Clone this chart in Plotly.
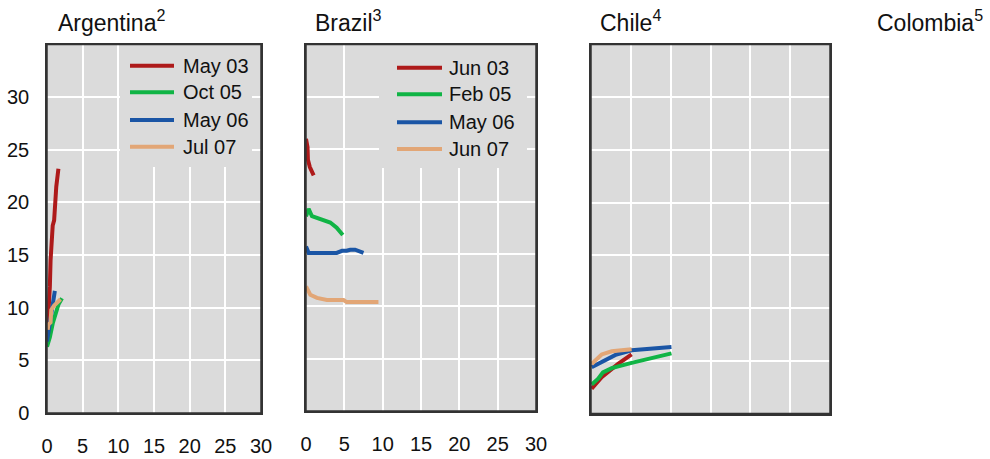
import plotly.graph_objects as go

W, H = 990, 459

# ---- data: yield curves by country (x: maturity in years, y: yield in %) ----
arg_may03_x = [0.0, 0.2, 0.4, 0.5, 0.6, 0.8, 1.0, 1.1, 1.3, 1.6]
arg_may03_y = [7.0, 9.0, 12.0, 14.5, 15.8, 17.8, 18.3, 20.0, 21.5, 23.2]
arg_oct05_x = [0.0, 0.4, 0.8, 1.3, 1.6, 2.1]
arg_oct05_y = [6.3, 7.2, 8.5, 9.8, 10.3, 10.9]
arg_may06_x = [0.0, 0.3, 0.6, 0.8, 1.1]
arg_may06_y = [6.8, 8.0, 9.5, 10.5, 11.6]
arg_jul07_x = [0.1, 0.2, 0.5, 0.6, 1.0, 1.5, 1.9]
arg_jul07_y = [7.9, 8.4, 8.6, 9.8, 10.2, 10.5, 10.8]

bra_jun03_x = [0.0, 0.1, 0.2, 0.25, 0.5, 1.0]
bra_jun03_y = [26.0, 25.6, 25.2, 24.0, 23.3, 22.5]
bra_feb05_x = [0.0, 0.34, 0.78, 2.08, 3.16, 4.0, 4.8]
bra_feb05_y = [18.6, 19.3, 18.6, 18.3, 18.0, 17.5, 16.8]
bra_may06_x = [0.0, 0.34, 4.0, 4.7, 5.3, 5.77, 6.4, 7.07, 7.5]
bra_may06_y = [15.7, 15.1, 15.1, 15.3, 15.3, 15.4, 15.4, 15.2, 15.1]
bra_jun07_x = [0.0, 0.2, 0.56, 1.43, 2.73, 4.9, 5.3, 9.45]
bra_jun07_y = [11.9, 11.6, 11.1, 10.8, 10.6, 10.6, 10.4, 10.4]

chl_red_x = [0.08, 1.34, 3.4, 5.1]
chl_red_y = [2.35, 3.45, 4.7, 5.6]
chl_green_x = [0.08, 0.9, 1.5, 2.6, 5.1, 10.1]
chl_green_y = [2.75, 3.3, 3.9, 4.3, 4.8, 5.7]
chl_blue_x = [0.08, 0.5, 1.76, 3.2, 5.1, 10.1]
chl_blue_y = [4.4, 4.55, 5.0, 5.6, 6.0, 6.3]
chl_tan_x = [0.08, 1.34, 2.6, 5.1]
chl_tan_y = [4.7, 5.6, 5.9, 6.1]

arg_labels = ["May 03", "Oct 05", "May 06", "Jul 07"]
bra_labels = ["Jun 03", "Feb 05", "May 06", "Jun 07"]
titles = ["Argentina<sup>2</sup>", "Brazil<sup>3</sup>", "Chile<sup>4</sup>", "Colombia<sup>5</sup>"]
tick_vals = [0, 5, 10, 15, 20, 25, 30]

RED, GREEN, BLUE, TAN = "#AE1A1A", "#10B445", "#1A55A5", "#E2A676"
COLORS = [RED, GREEN, BLUE, TAN]
BG = "#DBDBDB"
FONT = "Liberation Sans, Arial, sans-serif"


def px_x(p):
    return p / W


def px_y(p):
    return 1 - p / H


fig = go.Figure()

panels = [
    ("x", "y", [(arg_may03_x, arg_may03_y), (arg_oct05_x, arg_oct05_y),
                (arg_may06_x, arg_may06_y), (arg_jul07_x, arg_jul07_y)]),
    ("x2", "y2", [(bra_jun03_x, bra_jun03_y), (bra_feb05_x, bra_feb05_y),
                  (bra_may06_x, bra_may06_y), (bra_jun07_x, bra_jun07_y)]),
    ("x3", "y3", [(chl_red_x, chl_red_y), (chl_green_x, chl_green_y),
                  (chl_blue_x, chl_blue_y), (chl_tan_x, chl_tan_y)]),
]
for xa, ya, series in panels:
    for (xs, ys), col in zip(series, COLORS):
        fig.add_trace(go.Scatter(x=xs, y=ys, mode="lines", xaxis=xa, yaxis=ya,
                                 line=dict(color=col, width=4), showlegend=False,
                                 hoverinfo="skip"))

# panel boxes in pixels: (left, right, top, bottom)
boxes = [(47, 261, 44.5, 413), (306, 536, 44.5, 411), (591, 830, 44.5, 413.5)]

axis_common = dict(range=[0, 35], tickvals=tick_vals, showgrid=True, gridcolor="white",
                   gridwidth=1.5, zeroline=False, showline=True, linecolor="#333",
                   linewidth=1.5, mirror=True, ticks="", fixedrange=True,
                   automargin=False,
                   tickfont=dict(size=20, color="#111", family=FONT))

layout_axes = {}
for i, (l, r, t, b) in enumerate(boxes):
    sfx = "" if i == 0 else str(i + 1)
    xax = dict(axis_common)
    xax.update(range=[0, 30], domain=[px_x(l), px_x(r)], anchor="y" + sfx,
               showticklabels=(i < 2), ticklabelstandoff=14)
    yax = dict(axis_common)
    yax.update(domain=[px_y(b), px_y(t)], anchor="x" + sfx,
               showticklabels=(i == 0), ticklabelstandoff=12)
    layout_axes["xaxis" + sfx] = xax
    layout_axes["yaxis" + sfx] = yax

fig.update_layout(**layout_axes)

shapes = []
annotations = []

# legend blocks: box (l, r, t, b), swatch x0, x1, text x, row y positions
legends = [
    ((120, 252, 45, 167), 130, 174, 181, [65.7, 92.3, 120, 146.7], arg_labels),
    ((379, 527, 45, 168), 397, 442, 447, [67.7, 94.3, 122.3, 149], bra_labels),
]
for (bl, br, bt, bb), sx0, sx1, tx, rows, labels in legends:
    shapes.append(dict(type="rect", xref="paper", yref="paper",
                       x0=px_x(bl), x1=px_x(br), y0=px_y(bb), y1=px_y(bt),
                       fillcolor=BG, line=dict(width=0), layer="above"))
    for yy, lab, col in zip(rows, labels, COLORS):
        shapes.append(dict(type="line", xref="paper", yref="paper",
                           x0=px_x(sx0), x1=px_x(sx1), y0=px_y(yy), y1=px_y(yy),
                           line=dict(color=col, width=4), layer="above"))
        annotations.append(dict(text=lab, xref="paper", yref="paper", x=px_x(tx),
                                y=px_y(yy), xanchor="left", yanchor="middle",
                                showarrow=False,
                                font=dict(size=20, color="#111", family=FONT)))

# redraw frames on top of legend boxes
for l, r, t, b in boxes:
    shapes.append(dict(type="rect", xref="paper", yref="paper",
                       x0=px_x(l), x1=px_x(r), y0=px_y(b), y1=px_y(t),
                       line=dict(color="#333", width=1.5), layer="above"))

# panel titles
title_x = [56, 313, 598, 875]
for tx, txt in zip(title_x, titles):
    annotations.append(dict(text=txt, xref="paper", yref="paper", x=px_x(tx),
                            y=px_y(21), xanchor="left", yanchor="middle",
                            showarrow=False,
                            font=dict(size=23, color="#111", family=FONT)))

fig.update_layout(
    width=W, height=H,
    margin=dict(l=0, r=0, t=0, b=0, pad=0),
    paper_bgcolor="white",
    plot_bgcolor=BG,
    showlegend=False,
    shapes=shapes,
    annotations=annotations,
    font=dict(family=FONT, color="#111"),
)

fig.write_html("out.html", config={"displayModeBar": False})
